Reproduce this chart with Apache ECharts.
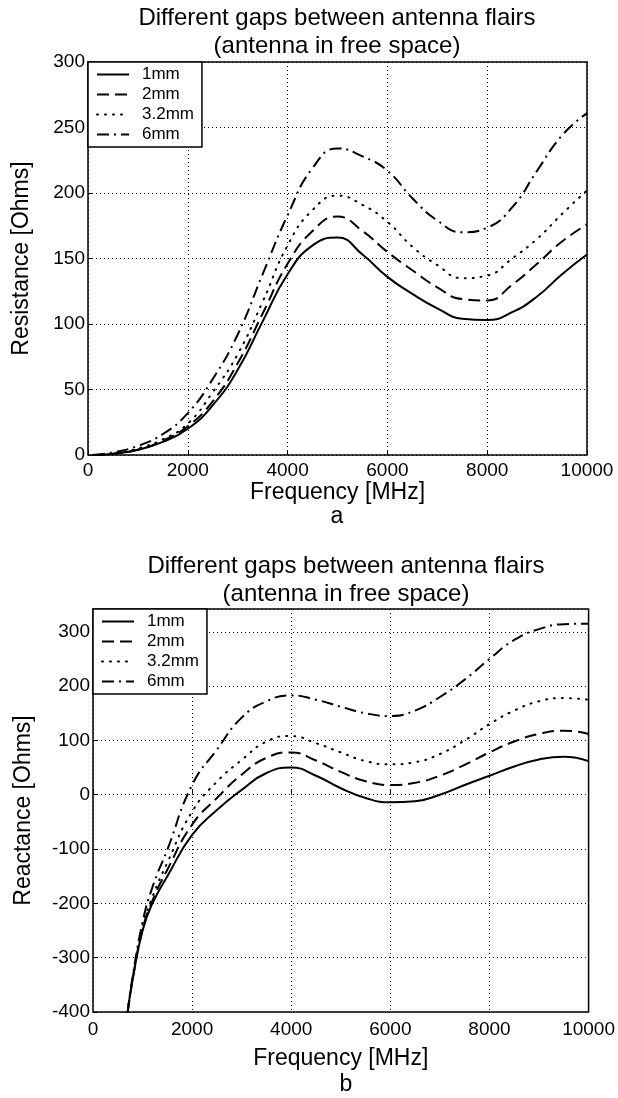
<!DOCTYPE html>
<html><head><meta charset="utf-8">
<script src="https://cdn.jsdelivr.net/npm/echarts@6/dist/echarts.min.js"></script>
<style>html,body{margin:0;padding:0;background:#fff}#c{width:618px;height:1098px}</style>
</head><body><div id="c"></div>
<script>
// ---- data (a) Resistance ----
const freqR = [100,500,1000,1500,2000,2500,3000,3500,4000,4500,5000,5500,6000,6500,7000,7500,8000,8500,9000,9500,10000];
const res1mm = [0,1,4,10,20,38,65,102,138,160,166,153,136,123,112,104,103,109,121,138,153];
const res2mm = [0,1,4,11,22,41,70,108,146,171,182,171,155,141,128,119,118,130,146,163,176];
const res32mm = [0,1,5,12,24,48,77,117,160,187,198,191,178,159,145,135,137,150,165,184,202];
const res6mm = [0,2,7,16,32,58,92,138,183,219,234,228,217,196,179,170,173.5,189,217,244,261];
// ---- data (b) Reactance ----
const freqX = [700,800,1000,1200,1500,2000,2500,3000,3500,4000,4500,5000,5500,6000,6500,7000,7500,8000,8500,9000,9500,10000];
const rea1mm = [-400,-340,-250,-200,-150,-74,-28,9,40,50,35,12,-6,-14,-12,0,18,35,52,65,70,62];
const rea2mm = [-400,-340,-248,-195,-138,-55,-6,37,68,78,63,42,25,18,22,35,55,78,98,112,118,112];
const rea32mm = [-400,-338,-245,-188,-125,-31,24,64,98,108,95,78,62,56,60,75,100,130,155,172,178,175];
const rea6mm = [-400,-335,-235,-170,-101,18,83,142,172,183,175,162,150,145,155,180,212,250,285,305,314,315];
const names = ['1mm','2mm','3.2mm','6mm'];

const F = 'Liberation Sans, Arial, sans-serif';
const styles = [
  {type:'solid'},
  {type:[12,6]},
  {type:[1,7], cap:'round'},
  {type:[12,5,2,5]}
];
function pairs(xs, ys){ return xs.map((x,i)=>[x,ys[i]]); }
function mkSeries(idx, xs, sets){
  return sets.map((ys,i)=>({
    name:names[i], type:'line', xAxisIndex:idx, yAxisIndex:idx,
    data:pairs(xs,ys), smooth:0.5, symbol:'none', showSymbol:false, clip:true,
    color:'#000', itemStyle:{color:'#000'},
    lineStyle:Object.assign({color:'#000', width:2}, styles[i])
  }));
}
const split = {show:true, lineStyle:{color:'#000', width:1, type:[1,3]}};
const tickStyle = {color:'#000', fontSize:19, fontFamily:F, formatter:v=>String(v)};
const nameStyle = {color:'#000', fontSize:23, fontFamily:F};
function xAx(idx, margin, gap){
  return {gridIndex:idx, type:'value', min:0, max:10000, interval:2000,
    name:'Frequency [MHz]', nameLocation:'middle', nameGap:gap, nameTextStyle:nameStyle,
    axisLine:{show:false}, axisTick:{show:true, inside:true, length:5, lineStyle:{color:'#000'}},
    axisLabel:Object.assign({margin:margin}, tickStyle), splitLine:split};
}
function leg(l,t){
  return {data:names, orient:'vertical', left:l, top:t, padding:[3,8,3,8], itemWidth:32, itemHeight:12, itemGap:1,
     backgroundColor:'#fff', borderColor:'#000', borderWidth:1.5, borderRadius:0,
     itemStyle:{color:'rgba(0,0,0,0)', borderWidth:0, opacity:0},
     textStyle:{color:'#000', fontSize:17, fontFamily:F, lineHeight:19, padding:[0,0,0,8]}};
}
const titleStyle = {color:'#000', fontSize:24, fontWeight:'normal', fontFamily:F, lineHeight:28};
const letterStyle = {color:'#000', fontSize:23, fontWeight:'normal', fontFamily:F};
const chart = echarts.init(document.getElementById('c'));
chart.setOption({
  animation:false,
  backgroundColor:'#fff',
  title:[
    {text:'Different gaps between antenna flairs\n(antenna in free space)', left:337, top:4, textAlign:'center', padding:0, textStyle:titleStyle},
    {text:'Different gaps between antenna flairs\n(antenna in free space)', left:346, top:552, textAlign:'center', padding:0, textStyle:titleStyle},
    {text:'a', left:337, top:505, textAlign:'center', padding:0, textStyle:letterStyle},
    {text:'b', left:346, top:1073, textAlign:'center', padding:0, textStyle:letterStyle}
  ],
  grid:[
    {left:88, top:62, width:499, height:393, show:true, borderColor:'#000', borderWidth:1.5, backgroundColor:'#fff'},
    {left:93, top:609, width:507, height:403, show:true, borderColor:'#000', borderWidth:1.5, backgroundColor:'#fff'}
  ],
  legend:[leg(88,62), leg(93,609)],
  xAxis:[xAx(0,6,26), xAx(1,8,35)],
  yAxis:[
    {gridIndex:0, type:'value', min:0, max:300, interval:50,
     name:'Resistance [Ohms]', nameLocation:'middle', nameGap:55, nameTextStyle:nameStyle,
     axisLine:{show:false}, axisTick:{show:true, inside:true, length:5, lineStyle:{color:'#000'}},
     axisLabel:Object.assign({margin:3}, tickStyle), splitLine:split},
    {gridIndex:1, type:'value', min:-400, max:342, interval:100,
     name:'Reactance [Ohms]', nameLocation:'middle', nameGap:58, nameTextStyle:nameStyle,
     axisLine:{show:false}, axisTick:{show:true, inside:true, length:5, lineStyle:{color:'#000'}},
     axisLabel:Object.assign({margin:3, showMaxLabel:false}, tickStyle), splitLine:split}
  ],
  series:[].concat(
    mkSeries(0, freqR, [res1mm,res2mm,res32mm,res6mm]),
    mkSeries(1, freqX, [rea1mm,rea2mm,rea32mm,rea6mm])
  )
});
</script></body></html>
